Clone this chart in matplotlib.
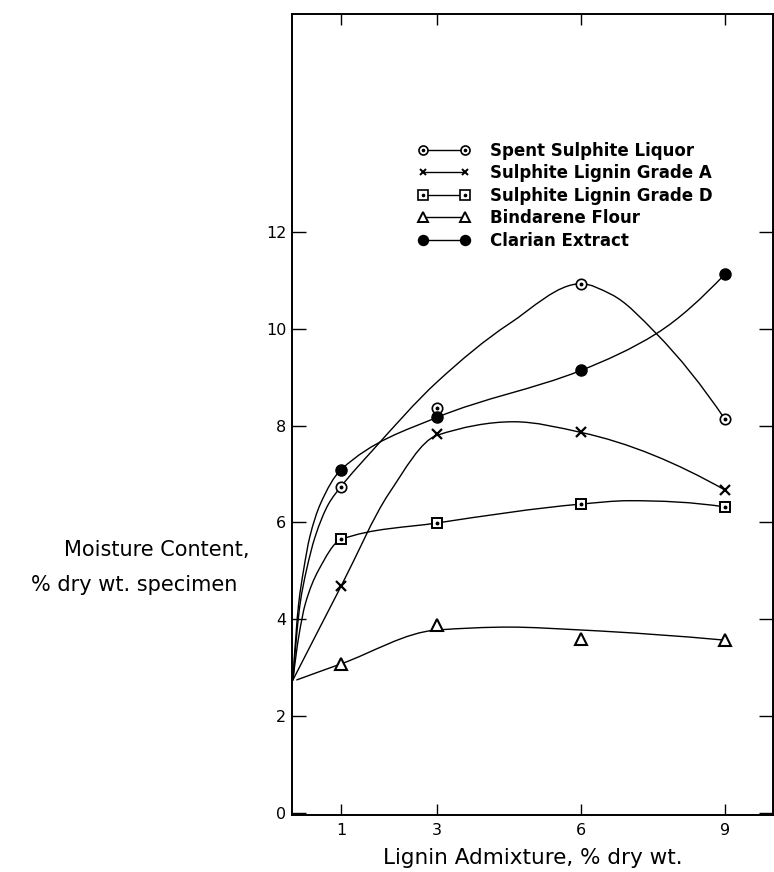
import numpy as np
import matplotlib
matplotlib.use('Agg')
import matplotlib.pyplot as plt
from matplotlib.path import Path
from matplotlib.patches import PathPatch
from matplotlib.lines import Line2D
from matplotlib.legend_handler import HandlerTuple

plt.rcParams['font.family'] = ['DejaVu Sans']

# ---- data ----
x_levels = [1, 3, 6, 9]
x_labels = ['1', '3', '6', '9']
y_ticks = [0, 2, 4, 6, 8, 10, 12]

spent = [6.74, 8.37, 10.93, 8.13]
grade_a = [4.68, 7.82, 7.86, 6.67]
grade_d = [5.65, 5.99, 6.38, 6.32]
bindarene = [3.08, 3.89, 3.60, 3.58]
clarian = [7.09, 8.17, 9.14, 11.13]

# hand-faired curves drawn through the points (knots)
spent_cx = [0, 0.15, 0.28, 0.46, 0.74, 1, 1.65, 3, 4.5, 6, 6.63, 7.57, 9]
spent_cy = [2.75, 4.33, 5.01, 5.70, 6.38, 6.74, 7.48, 8.9, 10.1, 10.93, 10.71, 9.9, 8.13]
grade_a_cx = [0, 1, 2, 3, 4.6, 6, 9]
grade_a_cy = [2.75, 4.68, 6.6, 7.8, 8.08, 7.86, 6.67]
grade_d_cx = [0, 0.12, 0.26, 0.53, 1, 3, 6, 7, 9]
grade_d_cy = [2.75, 3.64, 4.33, 5.01, 5.65, 5.99, 6.38, 6.45, 6.32]
bind_cx = [0.08, 1, 3, 4.5, 6, 9]
bind_cy = [2.75, 3.08, 3.78, 3.84, 3.78, 3.57]
clarian_cx = [0, 0.12, 0.22, 0.35, 0.57, 1, 3, 6, 7.57, 9]
clarian_cy = [2.75, 4.33, 5.01, 5.70, 6.38, 7.09, 8.17, 9.14, 9.9, 11.13]

labels = ['Spent Sulphite Liquor', 'Sulphite Lignin Grade A',
          'Sulphite Lignin Grade D', 'Bindarene Flour', 'Clarian Extract']


def pchip_slopes(x, y):
    x = np.asarray(x, float); y = np.asarray(y, float)
    h = np.diff(x); d = np.diff(y) / h
    n = len(x); m = np.zeros(n)
    for k in range(1, n - 1):
        if d[k - 1] * d[k] <= 0:
            m[k] = 0
        else:
            w1 = 2 * h[k] + h[k - 1]; w2 = h[k] + 2 * h[k - 1]
            m[k] = (w1 + w2) / (w1 / d[k - 1] + w2 / d[k])
    def end(h0, h1, d0, d1):
        e = ((2 * h0 + h1) * d0 - h0 * d1) / (h0 + h1)
        if np.sign(e) != np.sign(d0):
            e = 0
        elif np.sign(d0) != np.sign(d1) and abs(e) > 3 * abs(d0):
            e = 3 * d0
        return e
    m[0] = end(h[0], h[1], d[0], d[1])
    m[-1] = end(h[-1], h[-2], d[-1], d[-2])
    return x, y, m


def smooth_curve(ax, cx, cy, **kw):
    x, y, m = pchip_slopes(cx, cy)
    verts = [(x[0], y[0])]
    codes = [Path.MOVETO]
    for i in range(len(x) - 1):
        h = x[i + 1] - x[i]
        verts += [(x[i] + h / 3, y[i] + m[i] * h / 3),
                  (x[i + 1] - h / 3, y[i + 1] - m[i + 1] * h / 3),
                  (x[i + 1], y[i + 1])]
        codes += [Path.CURVE4] * 3
    ax.add_patch(PathPatch(Path(verts, codes), fill=False, lw=1.0,
                           ec='black', zorder=2, capstyle='round'))


fig = plt.figure(figsize=(7.74, 8.72), dpi=100)
ax = fig.add_axes([292 / 774, 1 - 815 / 872, 481 / 774, 801 / 872])

for cx, cy in [(spent_cx, spent_cy), (grade_a_cx, grade_a_cy),
               (grade_d_cx, grade_d_cy), (bind_cx, bind_cy),
               (clarian_cx, clarian_cy)]:
    smooth_curve(ax, cx, cy)

ms_style = dict(ls='none', mec='black', zorder=3)
ax.plot(x_levels, spent, marker='o', ms=7.5, mfc='white', mew=1.2, **ms_style)
ax.plot(x_levels, spent, marker='o', ms=1.8, color='black', ls='none', zorder=4)
ax.plot(x_levels, grade_a, marker='x', ms=6.5, mew=1.6, **ms_style)
ax.plot(x_levels, grade_d, marker='s', ms=7.5, mfc='white', mew=1.4, **ms_style)
ax.plot(x_levels, grade_d, marker='o', ms=1.8, color='black', ls='none', zorder=4)
ax.plot(x_levels, bindarene, marker='^', ms=8, mfc='white', mew=1.5, **ms_style)
ax.plot(x_levels, clarian, marker='o', ms=8, mfc='black', mew=1.0, **ms_style)

ax.set_xlim(-0.02, 10.0)
ax.set_ylim(-0.04, 16.5)
ax.set_xticks(x_levels)
ax.set_xticklabels(x_labels)
ax.set_yticks(y_ticks)
ax.set_yticklabels([str(v) for v in y_ticks])
ax.tick_params(axis='x', direction='in', top=True, length=8, width=1.0,
               labelsize=11.5, pad=6)
ax.tick_params(axis='y', direction='in', right=True, length=10, width=1.0,
               labelsize=11.5, pad=4)
for s in ax.spines.values():
    s.set_linewidth(1.4)

# legend
def lh(marker, ms, mfc, mew=1.2):
    return Line2D([], [], color='black', lw=1.0, marker=marker, ms=ms,
                  mfc=mfc, mec='black', mew=mew)
dot = Line2D([], [], ls='none', marker='o', ms=1.6, color='black')
handles = [(lh('o', 6.5, 'white'), dot),
           (lh('x', 5, 'black', 1.4),),
           (lh('s', 6.5, 'white'), dot),
           (lh('^', 6.5, 'white', 1.4),),
           (lh('o', 7, 'black'),)]
ax.legend(handles, labels, loc='upper left', bbox_to_anchor=(0.262, 0.8405),
          frameon=False, numpoints=2, handlelength=3.1, handletextpad=1.2,
          labelspacing=0.27, borderpad=0, borderaxespad=0,
          prop=dict(size=12, weight='bold'),
          handler_map={tuple: HandlerTuple(ndivide=1, pad=0)})

fig.text(250 / 774, 1 - 550 / 872, 'Moisture Content,', fontsize=15,
         ha='right', va='center')
fig.text(237 / 774, 1 - 585 / 872, '% dry wt. specimen', fontsize=15,
         ha='right', va='center')
fig.text(533 / 774, 1 - 858 / 872, 'Lignin Admixture, % dry wt.', fontsize=15.5,
         ha='center', va='center')

fig.savefig('out.png', dpi=100)
